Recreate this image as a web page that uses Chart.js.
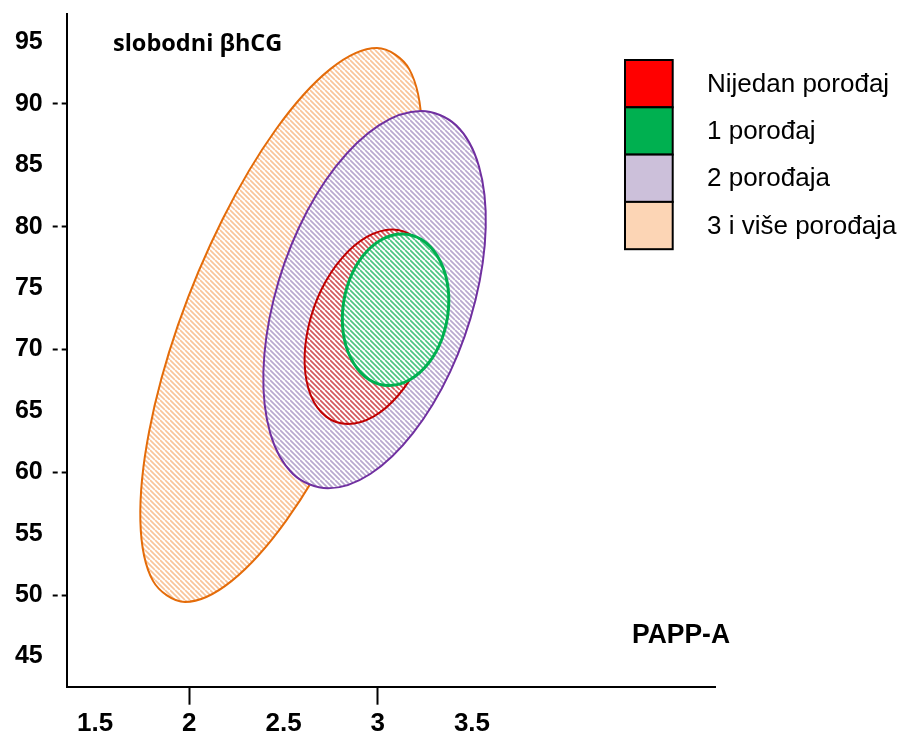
<!DOCTYPE html>
<html>
<head>
<meta charset="utf-8">
<script src="https://cdn.jsdelivr.net/npm/chart.js@4/dist/chart.umd.min.js"></script>
<style>body{margin:0;background:#fff}</style>
</head>
<body>
<canvas id="chart" width="905" height="736"></canvas>
<script>
const categories = ['Nijedan porođaj', '1 porođaj', '2 porođaja', '3 i više porođaja'];

// outlines of the ellipses (x = PAPP-A, y = slobodni bhCG)
const nijedanX = [3.076, 3.192, 3.273, 3.306, 3.287, 3.217, 3.108, 2.977, 2.842, 2.726, 2.645, 2.612, 2.632, 2.701, 2.810, 2.942];
const nijedanY = [79.78, 79.17, 77.45, 74.89, 71.85, 68.82, 66.25, 64.53, 63.93, 64.53, 66.25, 68.82, 71.85, 74.89, 77.45, 79.17];

const jedanX = [3.129, 3.234, 3.317, 3.367, 3.375, 3.341, 3.269, 3.170, 3.060, 2.955, 2.872, 2.822, 2.814, 2.848, 2.920, 3.019];
const jedanY = [79.41, 78.94, 77.60, 75.60, 73.24, 70.88, 68.88, 67.54, 67.07, 67.54, 68.88, 70.88, 73.24, 75.60, 77.60, 78.94];

const dvaX = [3.230, 3.416, 3.537, 3.573, 3.519, 3.384, 3.187, 2.960, 2.736, 2.550, 2.429, 2.393, 2.447, 2.582, 2.779, 3.006];
const dvaY = [89.43, 88.26, 84.93, 79.94, 74.06, 68.18, 63.19, 59.86, 58.69, 59.86, 63.19, 68.18, 74.06, 79.94, 84.93, 88.26];

const triX = [2.996, 3.167, 3.234, 3.187, 3.033, 2.797, 2.513, 2.225, 1.977, 1.807, 1.740, 1.787, 1.940, 2.177, 2.461, 2.748];
const triY = [94.56, 92.84, 87.96, 80.63, 72.00, 63.36, 56.04, 51.15, 49.43, 51.15, 56.04, 63.36, 72.00, 80.63, 87.96, 92.84];

const xTicks = [1.5, 2, 2.5, 3, 3.5];
const yTicks = [45, 50, 55, 60, 65, 70, 75, 80, 85, 90, 95];

const borderColors = ['#C00000', '#00B050', '#7030A0', '#E46C0A'];
const hatchColors = ['#D4585C', '#4CC483', '#B9A9CF', '#F9C49A'];
const legendColors = ['#FF0000', '#00B050', '#CCC0DA', '#FCD5B5'];

const ctx = document.getElementById('chart').getContext('2d');

function hatch(color) {
  const c = document.createElement('canvas');
  c.width = 10; c.height = 10;
  const g = c.getContext('2d');
  g.fillStyle = '#fff';
  g.fillRect(0, 0, 10, 10);
  g.strokeStyle = color;
  g.lineWidth = 1.7;
  g.beginPath();
  for (const k of [-2, -1, 0, 1]) {
    g.moveTo(k * 5, 0);
    g.lineTo(k * 5 + 10, 10);
  }
  g.stroke();
  return ctx.createPattern(c, 'repeat');
}

const pts = (xs, ys) => xs.map((x, i) => ({x, y: ys[i]}));
const series = [[nijedanX, nijedanY], [jedanX, jedanY], [dvaX, dvaY], [triX, triY]];
const drawOrder = [2, 1, 3, 4];

const datasets = series.map(([xs, ys], i) => ({
  label: categories[i],
  data: pts(xs, ys),
  borderColor: borderColors[i],
  backgroundColor: hatch(hatchColors[i]),
  borderWidth: i === 1 ? 3 : 2,
  fill: 'shape',
  tension: 0.34,
  pointRadius: 0,
  order: drawOrder[i]
}));

// close every outline into a loop, like the radar controller does
const loopPlugin = {
  id: 'loop',
  beforeDatasetUpdate(chart, args) {
    const line = args.meta.dataset;
    if (line) { line._loop = true; line._fullLoop = true; }
  }
};

const textPlugin = {
  id: 'texts',
  afterDraw(chart) {
    const c = chart.ctx;
    c.save();
    c.fillStyle = '#000';
    c.textAlign = 'left';
    c.textBaseline = 'alphabetic';
    c.font = 'bold 23.5px "Open Sans"';
    c.fillText('slobodni βhCG', 113, 51, 174);
    c.font = 'bold 27px "Liberation Sans"';
    c.fillText('PAPP-A', 632, 643, 98);

    const h = 47.3;
    c.font = '26px "Liberation Sans"';
    c.textBaseline = 'middle';
    categories.forEach((name, i) => {
      const y0 = 60 + i * h;
      c.fillStyle = legendColors[i];
      c.fillRect(625, y0, 47.7, h);
      c.lineWidth = 2;
      c.strokeStyle = '#000';
      c.strokeRect(625, y0, 47.7, h);
      c.fillStyle = '#000';
      c.fillText(name, 707, y0 + h / 2 + 1);
    });
    c.restore();
  }
};

new Chart(ctx, {
  type: 'line',
  data: { datasets },
  options: {
    responsive: false,
    animation: false,
    events: [],
    layout: { padding: { top: 14, right: 190, left: 0, bottom: 0 } },
    plugins: { legend: { display: false }, tooltip: { enabled: false } },
    scales: {
      x: {
        type: 'linear',
        min: 1.349,
        max: 4.79,
        afterFit: s => { s.height = 49.3; s.paddingLeft = 0; s.paddingRight = 0; },
        afterBuildTicks: s => { s.ticks = xTicks.map(v => ({value: v})); },
        border: { display: true, color: '#000', width: 2 },
        grid: {
          drawOnChartArea: false,
          tickLength: 18,
          tickWidth: 2,
          tickColor: c => (c.tick && (c.tick.value === 2 || c.tick.value === 3)) ? '#000' : 'rgba(0,0,0,0)'
        },
        ticks: {
          color: '#000',
          padding: 4,
          maxRotation: 0,
          callback: v => String(v),
          font: { family: 'Liberation Sans', weight: 'bold', size: 26 }
        }
      },
      y: {
        min: 42.53,
        max: 97.33,
        afterFit: s => { s.width = 66.7; s.paddingTop = 0; s.paddingBottom = 0; },
        afterBuildTicks: s => { s.ticks = yTicks.map(v => ({value: v})); },
        border: { display: true, color: '#000', width: 2 },
        grid: {
          drawOnChartArea: false,
          tickLength: 14,
          tickWidth: 2,
          tickBorderDash: [5, 4],
          tickColor: c => (c.tick && c.tick.value % 10 === 0) ? '#000' : 'rgba(0,0,0,0)'
        },
        ticks: {
          color: '#000',
          padding: 10,
          font: { family: 'Liberation Sans', weight: 'bold', size: 25 }
        }
      }
    }
  },
  plugins: [loopPlugin, textPlugin]
});
</script>
</body>
</html>
